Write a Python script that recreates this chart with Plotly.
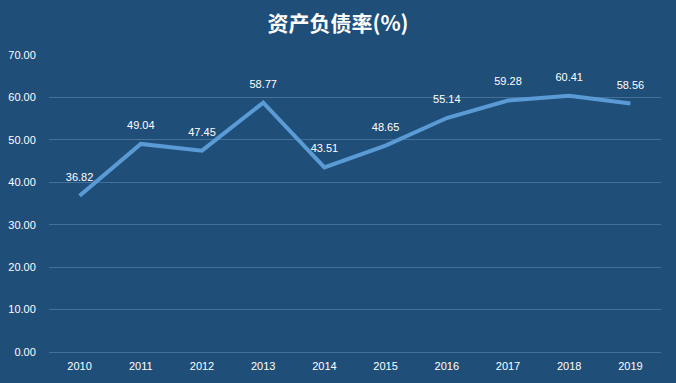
import plotly.graph_objects as go

years = ["2010", "2011", "2012", "2013", "2014", "2015", "2016", "2017", "2018", "2019"]
ratio = [36.82, 49.04, 47.45, 58.77, 43.51, 48.65, 55.14, 59.28, 60.41, 58.56]
y_ticks = [0, 10, 20, 30, 40, 50, 60, 70]

bg = "#1F4E79"
fig = go.Figure()
fig.add_trace(go.Scatter(
    x=years, y=ratio, mode="lines+markers+text",
    line=dict(color="#5B9BD5", width=4),
    marker=dict(size=18, color="rgba(0,0,0,0)"),
    text=[f"{v:.2f}" for v in ratio],
    textposition="top center",
    textfont=dict(color="#FFFFFF", size=11, family="Liberation Sans"),
    cliponaxis=False,
    hoverinfo="skip",
))
fig.update_layout(
    width=676, height=383,
    paper_bgcolor=bg, plot_bgcolor=bg,
    margin=dict(l=49, r=15, t=55, b=31),
    showlegend=False,
    title=dict(text="<b>资产负债率(%)</b>", x=0.5, xanchor="center", y=0.937, yanchor="middle",
               font=dict(color="#FFFFFF", size=21, family="Noto Sans CJK SC")),
    xaxis=dict(type="category", range=[-0.5, len(years) - 0.5],
               showgrid=False, zeroline=False, showline=False,
               automargin=False,
               tickfont=dict(color="#FFFFFF", size=11, family="Liberation Sans"),
               ticks="outside", ticklen=4, tickcolor="rgba(0,0,0,0)"),
    yaxis=dict(range=[0, 70], tickvals=y_ticks, tickformat=".2f",
               automargin=False,
               gridcolor="#44709A", gridwidth=1, zeroline=True, zerolinecolor="#44709A",
               zerolinewidth=1, showline=False,
               tickfont=dict(color="#FFFFFF", size=11, family="Liberation Sans"),
               ticks="outside", ticklen=10, tickcolor="rgba(0,0,0,0)"),
)
fig.write_html("out.html", config={"displayModeBar": False},
               post_script="document.body.style.margin='0';document.body.style.overflow='hidden';")
